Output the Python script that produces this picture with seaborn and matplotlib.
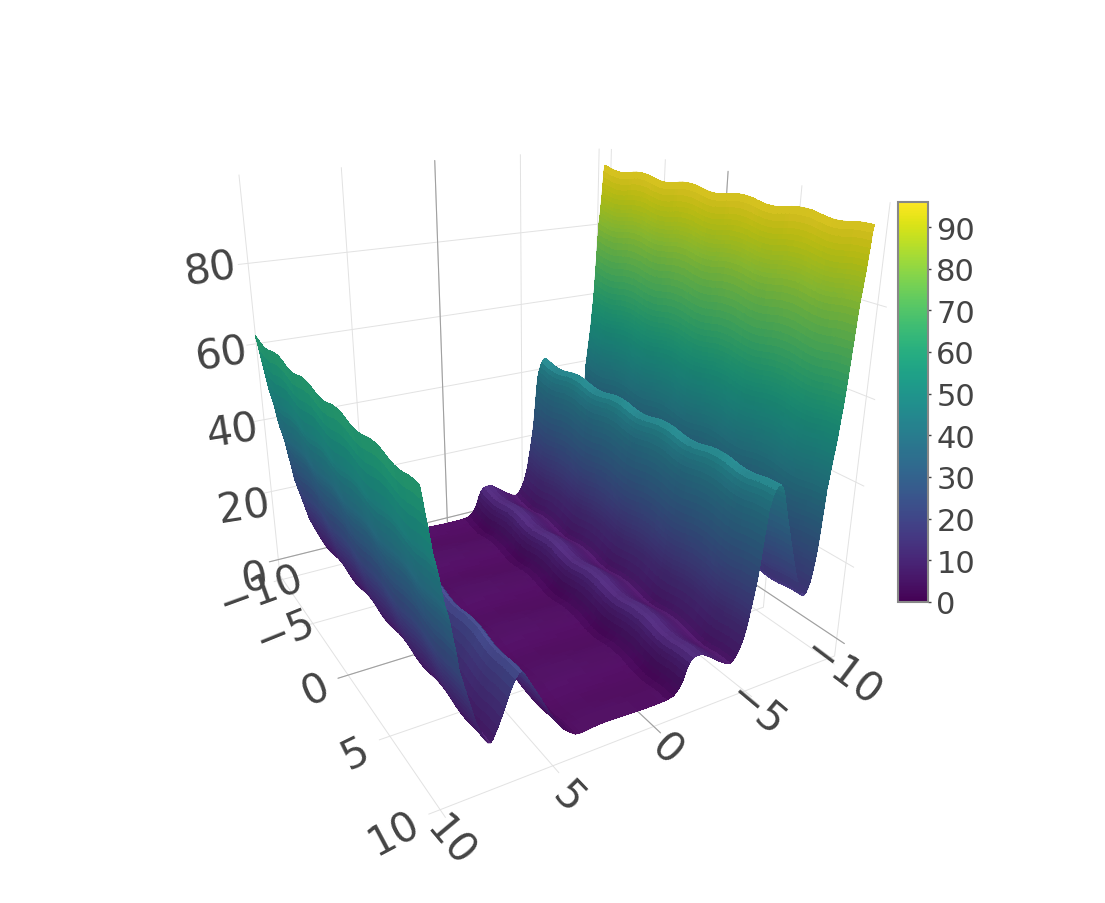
import numpy as np, matplotlib
matplotlib.use('Agg')
import matplotlib.pyplot as plt
import seaborn as sns
from matplotlib.cm import ScalarMappable
from matplotlib.colors import Normalize

# values
x_profile = [-9.75,-9.70,-9.68,-9.66,-9.64,-9.62,-9.60,-9.58,-9.56,-9.54,-9.52,-9.50,-9.475,-9.45,-9.43,-9.41,-9.39,-9.37,-9.35,-9.33,-9.31,-9.29,-9.27,-9.25,-9.23,-9.21,-9.19,-9.17,-9.15,-9.13,-9.11,-9.09,-9.07,-9.05,-9.025,-9.00,-8.975,-8.95,-8.925,-8.90,-8.875,-8.85,-8.825,-8.80,-8.775,-8.75,-8.735,-8.72,-8.705,-8.69,-8.675,-8.66,-8.645,-8.63,-8.615,-8.60,-8.575,-8.55,-8.525,-8.50,-8.475,-8.45,-8.40,-8.35,-8.25,-8.15,-8.05,-7.95,-7.85,-7.75,-7.68,-7.60,-7.52,-7.45,-7.37,-7.30,-7.22,-7.15,-7.07,-7.00,-6.92,-6.85,-6.75,-6.65,-6.57,-6.50,-6.42,-6.35,-6.27,-6.20,-6.05,-5.90,-5.78,-5.68,-5.60,-5.55,-5.50,-5.47,-5.44,-5.41,-5.38,-5.35,-5.32,-5.285,-5.25,-5.215,-5.18,-5.14,-5.10,-5.06,-5.02,-4.98,-4.94,-4.90,-4.86,-4.82,-4.78,-4.68,-4.56,-4.40,-4.20,-4.00,-3.75,-3.50,-3.25,-3.00,-2.70,-2.40,-2.10,-1.90,-1.75,-1.65,-1.55,-1.45,-1.30,-1.15,-0.95,-0.60,-0.30,0.10,0.50,0.90,1.40,1.90,2.40,2.90,3.40,3.70,3.95,4.20,4.55,4.85,5.15,5.35,5.55,5.75,5.95,6.15,6.30,6.42,6.54,6.68,6.85,7.00,7.15,7.30,7.45,7.60,7.70,7.80,7.90,8.00,8.12,8.25,8.40,8.47,8.55,8.62,8.70,8.77,8.85,8.92,9.00,9.05,9.10,9.15,9.20,9.25,9.30,9.35,9.40,9.45,9.50,9.55,9.60,9.65,9.72,9.78,9.85,9.92,10.00,10.08,10.16,10.25]
z_profile = [96.5,95,93.5,92,90.7,89.5,88.2,87,86,85,84,83,82,81,79.5,78,76.2,74.5,72.7,71,69.2,67.5,65.7,64,62.5,61,59.7,58.5,57.5,56.5,55.5,54.5,53.2,52,51,50,49,48,47,46,45,44,43,42,41,40,38.5,37,35.7,34.5,33.2,32,30.7,29.5,28.2,27,25.7,24.5,23.5,22.5,21.6,20.8,19.2,18,16.5,15.5,15,15,15.6,16.5,17.7,19,20,21,22.2,23.5,24.7,26,27.4,28.8,30.1,31.5,33.2,35,36.5,38,39.5,41,42.2,43.2,44.2,44.2,43.4,42.3,41,40,39,37.5,36,34.5,33,31.2,29.5,27.7,26,24.5,23,21.7,20.5,19.2,18,16.9,15.8,14.6,13.5,12.4,11.4,9.6,7.8,6,4.6,4,4.4,5.2,6,7,8,9,9.1,8.8,8,7,5.8,4.2,2.8,1.8,0.9,0.6,0.5,0.5,0.5,0.6,0.7,0.8,0.9,0.9,0.6,0.5,0.7,1.6,3.2,5.5,8,10,12,14,15.8,17.8,19.2,19.9,19.7,18.6,16.8,15,13,11,9.2,7.6,6.6,6.1,6.3,7,8.4,10,12,13.5,15,16.5,18,19.5,21,22.5,24,26,28,29.5,31,32.8,34.5,35.8,37,38,39,40.5,42,44,46,47.5,49,51.5,54.5,57,60,63]
y_profile = [-9.5,-9.25,-9.0,-8.75,-8.5,-8.25,-8.0,-7.75,-7.5,-7.25,-7.0,-6.75,-6.5,-6.25,-6.0,-5.75,-5.5,-5.25,-5.0,-4.75,-4.5,-4.25,-4.0,-3.75,-3.5,-3.25,-3.0,-2.75,-2.5,-2.25,-2.0,-1.75,-1.5,-1.25,-1.0,-0.75,-0.5,-0.25,0.0,0.25,0.5,0.75,1.0,1.25,1.5,1.75,2.0,2.25,2.5,2.75,3.0,3.25,3.5,3.75,4.0,4.25,4.5,4.75,5.0,5.25,5.5,5.75,6.0,6.25,6.5,6.75,7.0,7.25,7.5,7.75,8.0,8.25,8.5,8.75,9.0,9.25,9.5,9.75,10.0]
y_ripple = [0.45,0.28,0.05,-0.15,-0.35,-0.46,-0.5,-0.46,-0.35,-0.15,0.05,0.28,0.45,0.52,0.55,0.52,
            0.45,0.28,0.05,-0.15,-0.35,-0.46,-0.5,-0.46,-0.35,-0.15,0.05,0.28,0.45,0.52,0.55,0.52,
            0.45,0.28,0.05,-0.15,-0.35,-0.46,-0.5,-0.46,-0.35,-0.15,0.05,0.28,0.45,0.52,0.55,0.52,
            0.45,0.28,0.05,-0.15,-0.35,-0.46,-0.5,-0.46,-0.35,-0.15,0.05,0.28,0.45,0.52,0.55,0.52,
            0.45,0.28,0.05,-0.15,-0.35,-0.46,-0.5,-0.46,-0.35,-0.15,0.05,0.15,0.2,0.2,0.2]
axis_ticks = [-10,-5,0,5,10]
z_ticks = [0,20,40,60,80]
bar_ticks = [0,10,20,30,40,50,60,70,80,90]

W,H = 1105,904
sns.set_theme(style='white')
plt.rcParams['font.family'] = ['DejaVu Sans']
plt.rcParams['grid.color'] = '#e2e2e2'
plt.rcParams['grid.linewidth'] = 0.7
cmap = sns.color_palette('viridis', as_cmap=True)
norm = Normalize(0, 96)

fig = plt.figure(figsize=(W/100, H/100), dpi=100, facecolor='white')
side = 760.0
ax = fig.add_axes([146.7/W, 93.1/H, side/W, side/H], projection='3d', computed_zorder=False)
ax.patch.set_alpha(0)
ax.view_init(elev=21.35, azim=60.15)
ax.set_proj_type('persp', focal_length=0.2536)
ax.set_box_aspect((1,1,1.0156))
PAD = 0.49
ZLO, ZHI = -4.8, 100.8
ax.set_xlim(-10-PAD, 10+PAD, view_margin=0)
ax.set_ylim(-10-PAD, 10+PAD, view_margin=0)
ax.set_zlim(ZLO, ZHI, view_margin=0)

xs = np.array(x_profile); ys = np.array(y_profile)
X,Y = np.meshgrid(xs, ys)
Z = np.add.outer(np.array(y_ripple), np.array(z_profile))
dzdx = np.gradient(Z, xs, axis=1)*(2*(10+PAD))/(ZHI-ZLO)
dzdy = np.gradient(Z, ys, axis=0)*(2*(10+PAD))/(ZHI-ZLO)
nn = np.sqrt(1+dzdx**2+dzdy**2)
nz = 1/nn; ny = -dzdy/nn
rgba = cmap(norm(Z))
shade = 0.8+0.2*nz+0.3*np.clip(ny,0,None)
rgba[...,:3] = np.clip(rgba[...,:3]*shade[...,None]+0.055*nz[...,None]**4,0,1)

for a in (ax.xaxis, ax.yaxis, ax.zaxis):
    a.set_pane_color((1,1,1,0))
    a.pane.set_edgecolor((1,1,1,0))
    a.line.set_color((1,1,1,0))
    a._axinfo['tick']['inward_factor'] = 0
    a._axinfo['tick']['outward_factor'] = 0
ax.set_xticks(axis_ticks); ax.set_yticks(axis_ticks); ax.set_zticks(z_ticks)
for name in 'xyz':
    ax.tick_params(axis=name, labelsize=29.6, labelcolor='#444444', pad=2, width=0)
ax.grid(True)
PX = 1/4108.3   # pixels to projected units
label_style = {
    ax.xaxis: ([-37,-40,-43,-46,-50], [(-3,-55),(-5,-45),(-5,-31),(0,-25),(-6,-37)]),
    ax.yaxis: ([20,22,24,26,28], [(0,-40),(-5,-42),(-8,-30),(-8,-31),(-17,-33)]),
    ax.zaxis: ([9,9,9,9,9], [(3,-3),(0,-8),(-3,-12),(-6,-13),(-8,-18)]),
}
def shifted(setter, dx, dy):
    return lambda p: setter((p[0]+dx*PX, p[1]-dy*PX))
for axis,(rots,offs) in label_style.items():
    for tick,rot,(dx,dy) in zip(axis.get_major_ticks(),rots,offs):
        tick.label1.set_rotation(rot)
        tick.label1.set_position = shifted(tick.label1.set_position, dx, dy)

lo,hi = -10-PAD,10+PAD
zc = '#a0a0a0'
for xx,yy,zz in [([0,0],[lo,hi],[ZLO,ZLO]),([lo,hi],[0,0],[ZLO,ZLO]),([0,0],[lo,lo],[ZLO,ZHI]),([lo,lo],[0,0],[ZLO,ZHI]),([lo,hi],[lo,lo],[0,0]),([lo,lo],[lo,hi],[0,0])]:
    ax.plot(xx,yy,zz,color=zc,lw=0.8,zorder=1)
# soft outline pass under a seamless fill pass
ax.plot_surface(X,Y,Z,facecolors=rgba,rstride=1,cstride=1,shade=False,linewidth=0.5,antialiased=True,zorder=2)
ax.plot_surface(X,Y,Z,facecolors=rgba,rstride=1,cstride=1,shade=False,linewidth=0,antialiased=False,zorder=3)

cax = fig.add_axes([898/W, 1-603/H, 30/W, 400/H])
cb = fig.colorbar(ScalarMappable(norm=norm,cmap=cmap),cax=cax,ticks=bar_ticks)
cb.outline.set_edgecolor('#888888'); cb.outline.set_linewidth(1.5)
cax.tick_params(labelsize=22,labelcolor='#444444',length=2,width=1,color='#444444',pad=4,right=True)
fig.savefig('out.png',dpi=100)
